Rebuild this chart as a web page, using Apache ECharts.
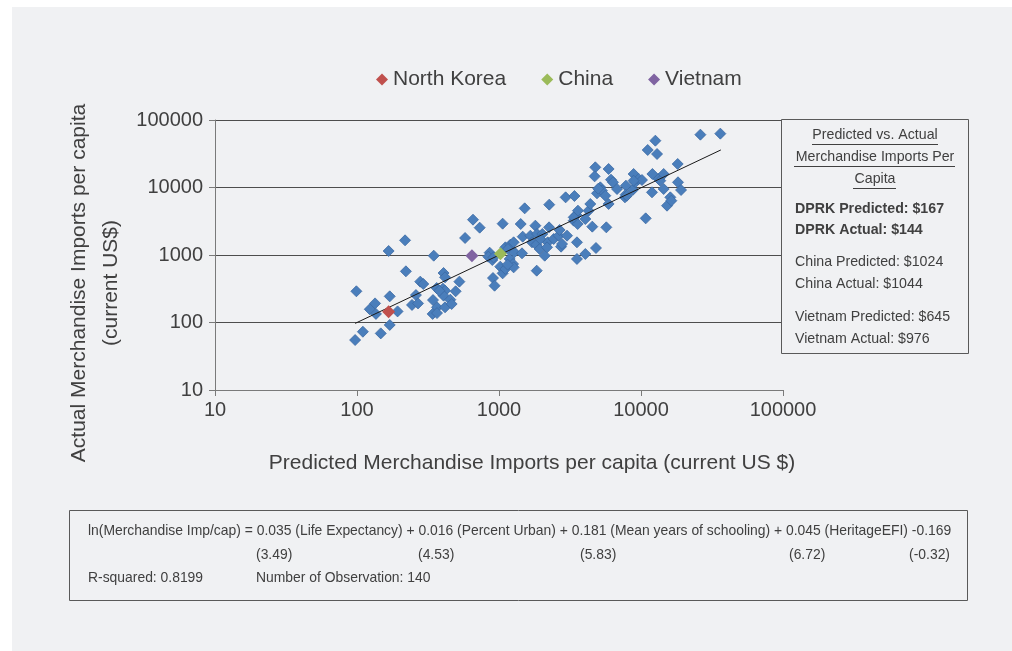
<!DOCTYPE html>
<html>
<head>
<meta charset="utf-8">
<script src="https://cdn.jsdelivr.net/npm/echarts@6/dist/echarts.min.js"></script>
<style>
  html, body { margin: 0; padding: 0; background: #ffffff; }
  #chart { width: 1012px; height: 651px; }
</style>
</head>
<body>
<div id="chart"></div>
<script>
// predicted vs actual merchandise imports per capita (current US$)
const otherPredicted = [
    99, 97, 110, 147, 170, 123, 134, 136, 193, 170, 167, 218, 221, 260, 244, 269, 279, 293,
    347, 343, 364, 366, 341, 366, 407, 417, 403, 417, 407, 417, 454, 464, 495, 526, 577, 656,
    731, 859, 897, 841, 907, 931, 1061, 1021, 1061, 1109, 1189, 1109, 1202, 1268, 1156, 1256,
    1283, 1452, 1422, 1517, 1469, 1663, 1708, 1803, 1832, 1853, 1933, 2019, 2099, 1843, 2251,
    2259, 2203, 2427, 2630, 2673, 2735, 2780, 3013, 2946, 3398, 3358, 3508, 3597, 3581, 3540,
    3540, 4055, 4055, 4276, 4395, 4539, 4819, 4767, 4716, 4898, 5171, 5310, 5606, 5700, 5915,
    5915, 6150, 6350, 6780, 7710, 7830, 7800, 8870, 8790, 9120, 9630, 10160, 10790, 11150,
    12030, 11950, 12620, 12970, 13300, 13670, 14440, 14440, 15250, 16090, 16360, 18130, 18220,
    19140, 26200, 36200, 380, 1954, 7960, 3358, 1268, 8870, 2180, 915, 1150, 5000
];
const otherActual = [
    290, 55, 73, 69, 92, 157, 192, 134, 146, 244, 1146, 1650, 573, 255, 182, 192, 403, 372,
    977, 215, 324, 168, 134, 138, 541, 467, 317, 296, 250, 168, 218, 188, 290, 403, 1786, 3337,
    2541, 1083, 843, 945, 456, 351, 2913, 672, 535, 621, 873, 1299, 1422, 1541, 1227, 736,
    1096, 1059, 2879, 4912, 1869, 1933, 1541, 2720, 1422, 2049, 1227, 2049, 977, 586, 2570,
    5570, 1541, 1726, 1933, 2345, 1328, 1455, 1933, 7150, 7480, 3228, 3914, 4537, 2879, 1541,
    873, 3412, 1035, 4537, 5700, 2630, 1270, 19900, 14630, 8200, 10050, 8980, 7570, 2570, 18800,
    5700, 13060, 11940, 9500, 7150, 10640, 7830, 15850, 9290, 11940, 13360, 12910, 3490, 35940,
    15850, 8480, 49400, 31350, 13360, 12620, 15850, 9500, 5380, 7150, 6380, 22300, 11940,
    9180, 60650, 62800, 296, 1726, 7570, 3614, 656, 12620, 1299, 923, 720, 9600
];
const highlightNames = ['North Korea', 'China', 'Vietnam'];
const highlightPredicted = [167, 1024, 645];
const highlightActual = [144, 1044, 976];
const highlightColors = ['#c0504d', '#9bbb59', '#8064a2'];
const trendX = [97, 36500];
const trendY = [97, 36000];
const axisTicks = [10, 100, 1000, 10000, 100000];

const txt = '#404040';
const font = 'Liberation Sans, Arial, sans-serif';

let series = [
    {
        name: 'Countries',
        type: 'scatter',
        symbol: 'diamond',
        symbolSize: 11,
        itemStyle: { color: '#4a7ebb', borderColor: '#3b69a3', borderWidth: 0.8, opacity: 1 },
        data: otherPredicted.map((v, i) => [v, otherActual[i]]),
        z: 2
    },
    {
        name: 'Trend',
        type: 'line',
        showSymbol: false,
        symbol: 'none',
        lineStyle: { color: '#1a1a1a', width: 1 },
        data: trendX.map((v, i) => [v, trendY[i]]),
        z: 3
    }
];
highlightNames.forEach((n, i) => {
    series.push({
        name: n,
        type: 'scatter',
        symbol: 'diamond',
        symbolSize: 13,
        itemStyle: { color: highlightColors[i], opacity: 1 },
        data: [[highlightPredicted[i], highlightActual[i]]],
        z: 4
    });
});

// annotation box texts
const noteTitle = ['Predicted vs. Actual', 'Merchandise Imports Per', 'Capita'];
const noteBold = ['DPRK Predicted: $' + highlightPredicted[0], 'DPRK Actual: $' + highlightActual[0]];
const noteLines = [
    'China Predicted: $' + highlightPredicted[1], 'China Actual: $' + highlightActual[1],
    'Vietnam Predicted: $' + highlightPredicted[2], 'Vietnam Actual: $' + highlightActual[2]
];
const eqLine = 'ln(Merchandise Imp/cap) = 0.035 (Life Expectancy) + 0.016 (Percent Urban) + 0.181 (Mean years of schooling) + 0.045 (HeritageEFI) -0.169';
const tStats = ['(3.49)', '(4.53)', '(5.83)', '(6.72)', '(-0.32)'];
const tStatX = [256, 418, 580, 789, 950];

const noteFont = '14.2px ' + font;
const eqFont = '13.9px ' + font;

let graphics = [
    { type: 'rect', z: -10, shape: { x: 12, y: 7, width: 1000, height: 644 }, style: { fill: '#f0f1f3' } },
    // note box
    { type: 'rect', z: 10, shape: { x: 781.5, y: 119.5, width: 187, height: 234 },
      style: { fill: '#f0f1f3', stroke: '#595959', lineWidth: 1 } },
    // equation box
    { type: 'rect', z: 10, shape: { x: 69.5, y: 510.5, width: 898, height: 90 },
      style: { fill: '#f0f1f3', stroke: '#595959', lineWidth: 1 } },
    // axis titles
    { type: 'text', z: 11, x: 532, y: 463,
      style: { text: 'Predicted Merchandise Imports per capita (current US $)', fill: txt,
               font: '21px ' + font, textAlign: 'center', textVerticalAlign: 'middle' } },
    { type: 'text', z: 11, x: 79, y: 283, rotation: Math.PI / 2,
      style: { text: 'Actual Merchandise Imports per capita', fill: txt,
               font: '21px ' + font, textAlign: 'center', textVerticalAlign: 'middle' } },
    { type: 'text', z: 11, x: 111, y: 283, rotation: Math.PI / 2,
      style: { text: '(current US$)', fill: txt,
               font: '21px ' + font, textAlign: 'center', textVerticalAlign: 'middle' } }
];
noteTitle.forEach((t, i) => {
    graphics.push({ type: 'text', z: 11, x: 875, y: 135 + i * 22,
        style: { text: t, fill: txt, font: noteFont, textAlign: 'center', textVerticalAlign: 'middle' } });
});
// underlines of the note title
[[812, 938], [794, 955], [853, 896]].forEach((u, i) => {
    graphics.push({ type: 'line', z: 11, shape: { x1: u[0], y1: 144.5 + i * 22, x2: u[1], y2: 144.5 + i * 22 },
        style: { stroke: txt, lineWidth: 1 } });
});
noteBold.forEach((t, i) => {
    graphics.push({ type: 'text', z: 11, x: 795, y: 209 + i * 21,
        style: { text: t, fill: txt, font: 'bold ' + noteFont, textVerticalAlign: 'middle' } });
});
noteLines.forEach((t, i) => {
    graphics.push({ type: 'text', z: 11, x: 795, y: 262 + (i % 2) * 22 + Math.floor(i / 2) * 55,
        style: { text: t, fill: txt, font: noteFont, textVerticalAlign: 'middle' } });
});
graphics.push({ type: 'text', z: 11, x: 88, y: 531,
    style: { text: eqLine, fill: txt, font: eqFont, textVerticalAlign: 'middle' } });
tStats.forEach((t, i) => {
    graphics.push({ type: 'text', z: 11, x: tStatX[i], y: 555,
        style: { text: t, fill: txt, font: eqFont, textVerticalAlign: 'middle',
                 textAlign: i === tStats.length - 1 ? 'right' : 'left' } });
});
graphics.push({ type: 'text', z: 11, x: 88, y: 578,
    style: { text: 'R-squared: 0.8199', fill: txt, font: eqFont, textVerticalAlign: 'middle' } });
graphics.push({ type: 'text', z: 11, x: 256, y: 578,
    style: { text: 'Number of Observation: 140', fill: txt, font: eqFont, textVerticalAlign: 'middle' } });

const chart = echarts.init(document.getElementById('chart'), null, { renderer: 'canvas' });
chart.setOption({
    backgroundColor: '#ffffff',
    animation: false,
    textStyle: { fontFamily: font },
    legend: {
        data: highlightNames,
        left: 371,
        top: 64,
        icon: 'diamond',
        itemWidth: 12,
        itemHeight: 12,
        itemGap: 35,
        textStyle: { fontSize: 21, color: txt, fontFamily: font }
    },
    grid: { left: 215, right: 229, top: 120, bottom: 261 },
    xAxis: {
        type: 'log',
        logBase: 10,
        min: axisTicks[0],
        max: axisTicks[axisTicks.length - 1],
        axisLine: { show: true, lineStyle: { color: '#7a7a7a', width: 1 } },
        axisTick: { show: true, length: 6, lineStyle: { color: '#7a7a7a' } },
        axisLabel: { fontSize: 20, color: txt, margin: 10, fontFamily: font, formatter: v => String(v) },
        splitLine: { show: false },
        minorTick: { show: false }
    },
    yAxis: {
        type: 'log',
        logBase: 10,
        min: axisTicks[0],
        max: axisTicks[axisTicks.length - 1],
        axisLine: { show: true, lineStyle: { color: '#7a7a7a', width: 1 } },
        axisTick: { show: true, length: 6, lineStyle: { color: '#7a7a7a' } },
        axisLabel: { fontSize: 20, color: txt, margin: 12, fontFamily: font, formatter: v => String(v) },
        splitLine: { show: true, lineStyle: { color: '#4d4d4d', width: 1 } }
    },
    series: series,
    graphic: graphics
});
</script>
</body>
</html>
